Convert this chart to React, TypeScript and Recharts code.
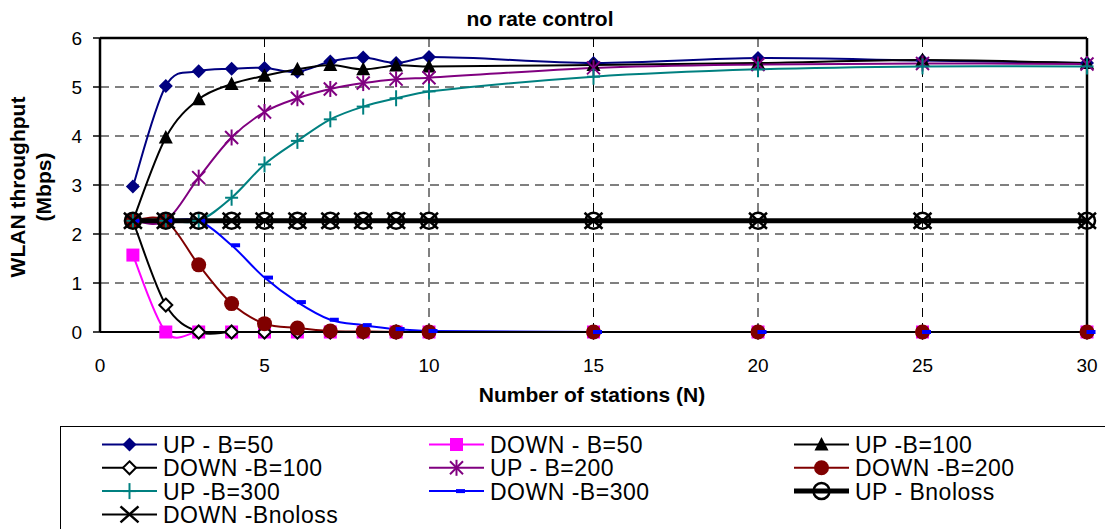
import React from 'react';
import { LineChart, Line, XAxis, YAxis, CartesianGrid, ReferenceLine } from 'recharts';

// Number of stations on the x axis
const stations = [1, 2, 3, 4, 5, 6, 7, 8, 9, 10, 15, 20, 25, 30];

// Throughput (Mbps) per series, one value per station count
const upB50 = [2.97, 5.02, 5.32, 5.37, 5.39, 5.31, 5.52, 5.6, 5.49, 5.61, 5.49, 5.59, 5.54, 5.49];
const downB50 = [1.57, 0, 0, 0, 0, 0, 0, 0, 0, 0, 0, 0, 0, 0];
const upB100 = [2.27, 3.97, 4.75, 5.06, 5.23, 5.36, 5.45, 5.36, 5.44, 5.42, 5.45, 5.49, 5.55, 5.49];
const downB100 = [2.27, 0.55, 0, 0, 0, 0, 0, 0, 0, 0, 0, 0, 0, 0];
const upB200 = [2.27, 2.27, 3.15, 3.97, 4.49, 4.77, 4.96, 5.08, 5.16, 5.19, 5.39, 5.46, 5.48, 5.47];
const downB200 = [2.27, 2.27, 1.37, 0.58, 0.17, 0.08, 0.02, 0.01, 0, 0, 0, 0, 0, 0];
const upB300 = [2.27, 2.27, 2.27, 2.74, 3.42, 3.9, 4.34, 4.6, 4.77, 4.91, 5.21, 5.36, 5.42, 5.42];
const downB300 = [2.27, 2.27, 2.27, 1.77, 1.11, 0.61, 0.25, 0.14, 0.06, 0.02, 0, 0, 0, 0];
const upNoloss = [2.27, 2.27, 2.27, 2.27, 2.27, 2.27, 2.27, 2.27, 2.27, 2.27, 2.27, 2.27, 2.27, 2.27];
const downNoloss = [2.27, 2.27, 2.27, 2.27, 2.27, 2.27, 2.27, 2.27, 2.27, 2.27, 2.27, 2.27, 2.27, 2.27];

const xTicks = [0, 5, 10, 15, 20, 25, 30];
const yTicks = [0, 1, 2, 3, 4, 5, 6];

const FONT = '"Liberation Sans", Arial, Helvetica, sans-serif';

type MarkerKind =
  | 'diamond' | 'square' | 'triangle' | 'openDiamond' | 'asterisk'
  | 'circle' | 'plus' | 'dash' | 'openCircle' | 'cross';

interface SeriesDef {
  key: string;
  name: string;
  color: string;
  width: number;
  marker: MarkerKind;
  values: number[];
}

const series: SeriesDef[] = [
  { key: 'upB50', name: 'UP - B=50', color: '#000080', width: 2, marker: 'diamond', values: upB50 },
  { key: 'downB50', name: 'DOWN - B=50', color: '#FF00FF', width: 2, marker: 'square', values: downB50 },
  { key: 'upB100', name: 'UP -B=100', color: '#000000', width: 2, marker: 'triangle', values: upB100 },
  { key: 'downB100', name: 'DOWN -B=100', color: '#000000', width: 2, marker: 'openDiamond', values: downB100 },
  { key: 'upB200', name: 'UP - B=200', color: '#800080', width: 2, marker: 'asterisk', values: upB200 },
  { key: 'downB200', name: 'DOWN -B=200', color: '#800000', width: 2, marker: 'circle', values: downB200 },
  { key: 'upB300', name: 'UP -B=300', color: '#008080', width: 2, marker: 'plus', values: upB300 },
  { key: 'downB300', name: 'DOWN -B=300', color: '#0000FF', width: 2, marker: 'dash', values: downB300 },
  { key: 'upNoloss', name: 'UP - Bnoloss', color: '#000000', width: 5, marker: 'openCircle', values: upNoloss },
  { key: 'downNoloss', name: 'DOWN -Bnoloss', color: '#000000', width: 2, marker: 'cross', values: downNoloss },
];

const data = stations.map((n, i) => {
  const row: Record<string, number> = { n };
  series.forEach((s) => {
    row[s.key] = s.values[i];
  });
  return row;
});

// Spreadsheet-style smoothed line: cubic Bezier segments whose handles follow
// the chord through the neighbouring points (handles scaled by segment width).
function smoothCurve(context: any) {
  let xs: number[] = [];
  let ys: number[] = [];
  return {
    areaStart() {},
    areaEnd() {},
    lineStart() {
      xs = [];
      ys = [];
    },
    point(x: number, y: number) {
      xs.push(+x);
      ys.push(+y);
    },
    lineEnd() {
      const n = xs.length;
      if (!n) return;
      context.moveTo(xs[0], ys[0]);
      if (n === 1) return;
      const tangent = (i: number) => {
        const a = Math.max(i - 1, 0);
        const b = Math.min(i + 1, n - 1);
        const span = xs[b] - xs[a];
        const interior = a === i - 1 && b === i + 1;
        return { tx: xs[b] - xs[a], ty: ys[b] - ys[a], denom: interior ? span : 2 * span };
      };
      for (let i = 0; i < n - 1; i++) {
        const dx = xs[i + 1] - xs[i];
        const t0 = tangent(i);
        const t1 = tangent(i + 1);
        const f0 = dx / t0.denom / 3;
        const f1 = dx / t1.denom / 3;
        context.bezierCurveTo(
          xs[i] + t0.tx * f0,
          ys[i] + t0.ty * f0,
          xs[i + 1] - t1.tx * f1,
          ys[i + 1] - t1.ty * f1,
          xs[i + 1],
          ys[i + 1]
        );
      }
    },
  };
}

function Marker({ kind, cx, cy, color }: { kind: MarkerKind; cx: number; cy: number; color: string }) {
  if (cx == null || cy == null || isNaN(cx) || isNaN(cy)) return null;
  switch (kind) {
    case 'diamond':
      return <polygon points={`${cx},${cy - 7} ${cx + 7},${cy} ${cx},${cy + 7} ${cx - 7},${cy}`} fill={color} />;
    case 'square':
      return <rect x={cx - 6.5} y={cy - 6.5} width={13} height={13} fill={color} />;
    case 'triangle':
      return <polygon points={`${cx},${cy - 7.5} ${cx + 7},${cy + 6} ${cx - 7},${cy + 6}`} fill={color} />;
    case 'openDiamond':
      return (
        <polygon
          points={`${cx},${cy - 6.5} ${cx + 6.5},${cy} ${cx},${cy + 6.5} ${cx - 6.5},${cy}`}
          fill="#FFFFFF"
          stroke={color}
          strokeWidth={2}
        />
      );
    case 'asterisk':
      return (
        <g stroke={color} strokeWidth={2}>
          <line x1={cx - 6.5} y1={cy - 6.5} x2={cx + 6.5} y2={cy + 6.5} />
          <line x1={cx - 6.5} y1={cy + 6.5} x2={cx + 6.5} y2={cy - 6.5} />
          <line x1={cx} y1={cy - 8} x2={cx} y2={cy + 8} />
        </g>
      );
    case 'circle':
      return <circle cx={cx} cy={cy} r={7.5} fill={color} />;
    case 'plus':
      return (
        <g stroke={color} strokeWidth={2}>
          <line x1={cx - 6.5} y1={cy} x2={cx + 6.5} y2={cy} />
          <line x1={cx} y1={cy - 8} x2={cx} y2={cy + 8} />
        </g>
      );
    case 'dash':
      return <rect x={cx - 0.5} y={cy - 2} width={9} height={4} fill={color} />;
    case 'openCircle':
      return <circle cx={cx} cy={cy} r={8} fill="none" stroke={color} strokeWidth={2.5} />;
    case 'cross':
      return (
        <g stroke={color} strokeWidth={2.5}>
          <line x1={cx - 9} y1={cy - 8} x2={cx + 9} y2={cy + 8} />
          <line x1={cx - 9} y1={cy + 8} x2={cx + 9} y2={cy - 8} />
        </g>
      );
    default:
      return null;
  }
}

// Legend layout: three columns, entries filled row by row
const legendColumns = [163, 490, 855];
const legendRowBaselines = [453, 476.3, 499.6, 522.9];

export default function App() {
  return (
    <div style={{ position: 'relative', width: 1105, height: 529, background: '#FFFFFF', fontFamily: FONT }}>
      <style>{'body{margin:0;background:#fff;}'}</style>
      <LineChart
        width={1105}
        height={529}
        data={data}
        margin={{ top: 38, right: 18, left: 0, bottom: 137 }}
      >
        <CartesianGrid stroke="#000000" strokeWidth={1} strokeDasharray="9 6" />
        <XAxis
          dataKey="n"
          type="number"
          domain={[0, 30]}
          ticks={xTicks}
          interval={0}
          height={60}
          tickLine={false}
          tickSize={0}
          tickMargin={27}
          axisLine={{ stroke: '#000000', strokeWidth: 2 }}
          tick={{ fill: '#000000', fontSize: 19, fontFamily: FONT }}
        />
        <YAxis
          type="number"
          domain={[0, 6]}
          ticks={yTicks}
          interval={0}
          width={100}
          tickSize={7}
          tickMargin={11}
          tickLine={{ stroke: '#000000', strokeWidth: 1.5 }}
          axisLine={{ stroke: '#000000', strokeWidth: 2.5 }}
          tick={{ fill: '#000000', fontSize: 19, fontFamily: FONT }}
        />
        <ReferenceLine y={6} stroke="#000000" strokeWidth={2.5} ifOverflow="extendDomain" />
        <ReferenceLine x={30} stroke="#000000" strokeWidth={2.5} ifOverflow="extendDomain" />
        {series.map((s) => (
          <Line
            key={s.key}
            dataKey={s.key}
            name={s.name}
            type={smoothCurve as any}
            stroke={s.color}
            strokeWidth={s.width}
            strokeLinejoin="round"
            isAnimationActive={false}
            activeDot={false}
            dot={(p: any) => (
              <Marker key={`${s.key}-${p.index}`} kind={s.marker} cx={p.cx} cy={p.cy} color={s.color} />
            )}
          />
        ))}
      </LineChart>
      <svg
        width={1105}
        height={529}
        style={{ position: 'absolute', left: 0, top: 0, pointerEvents: 'none' }}
      >
        <text x={540} y={26} textAnchor="middle" fontSize={21} fontWeight="bold" fontFamily={FONT} fill="#000">
          no rate control
        </text>
        <text x={592} y={402} textAnchor="middle" fontSize={21} fontWeight="bold" fontFamily={FONT} fill="#000">
          Number of stations (N)
        </text>
        <g transform="translate(25,187) rotate(-90)">
          <text x={0} y={0} textAnchor="middle" fontSize={21} fontWeight="bold" fontFamily={FONT} fill="#000">
            WLAN throughput
          </text>
        </g>
        <g transform="translate(51,187) rotate(-90)">
          <text x={0} y={0} textAnchor="middle" fontSize={21} fontWeight="bold" fontFamily={FONT} fill="#000">
            (Mbps)
          </text>
        </g>
        <rect x={60.5} y={426.5} width={1100} height={200} fill="#FFFFFF" stroke="#000000" strokeWidth={1} />
        {series.map((s, i) => {
          const tx = legendColumns[i % 3];
          const base = legendRowBaselines[Math.floor(i / 3)];
          const ly = base - 8.5;
          const x1 = tx - 61;
          const x2 = tx - 6;
          return (
            <g key={s.key}>
              <line x1={x1} y1={ly} x2={x2} y2={ly} stroke={s.color} strokeWidth={s.width} />
              <Marker kind={s.marker} cx={(x1 + x2) / 2} cy={ly} color={s.color} />
              <text x={tx} y={base} fontSize={23} letterSpacing={0.5} fontFamily={FONT} fill="#000">
                {s.name}
              </text>
            </g>
          );
        })}
      </svg>
    </div>
  );
}
